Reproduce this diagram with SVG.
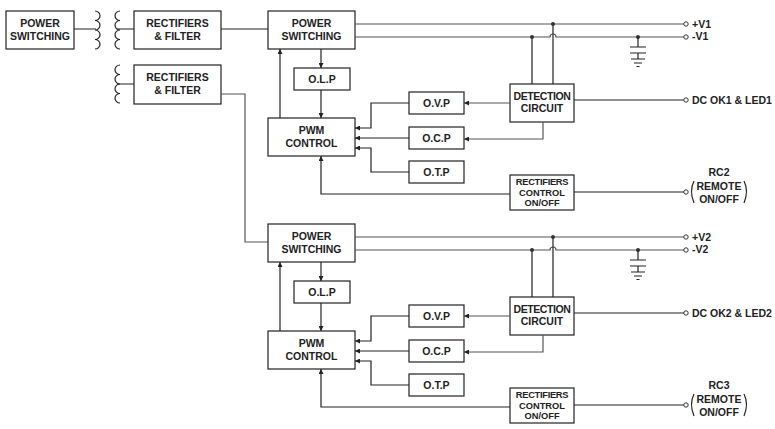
<svg xmlns="http://www.w3.org/2000/svg" width="775" height="429" viewBox="0 0 775 429">
<style>
.b{fill:#fff;stroke:#222;stroke-width:1.2}
.c{fill:none;stroke:#555;stroke-width:1.2}
.k{fill:none;stroke:#222;stroke-width:1.2}
.t{font-family:"Liberation Sans",Arial,sans-serif;font-size:10.5px;font-weight:bold;fill:#222;text-anchor:middle}
.s{font-size:9.3px}
.l{font-family:"Liberation Sans",Arial,sans-serif;font-size:10.5px;font-weight:bold;fill:#222}
.o{fill:#fff;stroke:#333;stroke-width:1}
.d{fill:#333}
</style>
<defs>
<marker id="a" viewBox="0 0 6 6" refX="6" refY="3" markerWidth="5" markerHeight="5" orient="auto" markerUnits="userSpaceOnUse"><path d="M0,0L6,3L0,6z" fill="#222"/></marker>
</defs>
<rect width="775" height="429" fill="#fff"/>
<g id="ps1"><rect class="b" x="6" y="11" width="68" height="38"/><text class="t" x="40" y="27">POWER</text><text class="t" x="40" y="40">SWITCHING</text></g>
<g id="transformer">
<path class="k" d="M95,11a5,4.75 0 0 1 0,9.5a5,4.75 0 0 1 0,9.5a5,4.75 0 0 1 0,9.5a5,4.75 0 0 1 0,9.5"/>
<path class="k" d="M120,11a5,4.75 0 0 0 0,9.5a5,4.75 0 0 0 0,9.5a5,4.75 0 0 0 0,9.5a5,4.75 0 0 0 0,9.5"/>
<path class="k" d="M120,65a5,4.75 0 0 0 0,9.5a5,4.75 0 0 0 0,9.5a5,4.75 0 0 0 0,9.5a5,4.75 0 0 0 0,9.5"/>
</g>
<g id="rf1"><rect class="b" x="134" y="11" width="87" height="38"/><text class="t" x="177.5" y="27">RECTIFIERS</text><text class="t" x="177.5" y="40">&amp; FILTER</text></g>
<g id="rf2"><rect class="b" x="134" y="65" width="87" height="39"/><text class="t" x="177.5" y="81">RECTIFIERS</text><text class="t" x="177.5" y="94">&amp; FILTER</text></g>
<g id="connectors-input">
<path class="k" d="M74,29H96M117,29H134M221,29H268M117,84H134"/>
<path class="c" d="M221,94H245V242H268"/>
</g>
<g id="sec1">
<g id="s1-ps"><rect class="b" x="268" y="11" width="87" height="38"/><text class="t" x="311.5" y="27">POWER</text><text class="t" x="311.5" y="40">SWITCHING</text></g>
<g id="s1-olp"><rect class="b" x="294" y="68" width="56" height="22"/><text class="t" x="322" y="83">O.L.P</text></g>
<g id="s1-pwm"><rect class="b" x="268" y="118" width="87" height="38"/><text class="t" x="311.5" y="134">PWM</text><text class="t" x="311.5" y="147">CONTROL</text></g>
<g id="s1-ovp"><rect class="b" x="409" y="92" width="55" height="22"/><text class="t" x="436.5" y="107">O.V.P</text></g>
<g id="s1-ocp"><rect class="b" x="409" y="127" width="55" height="22"/><text class="t" x="436.5" y="142">O.C.P</text></g>
<g id="s1-otp"><rect class="b" x="409" y="161" width="55" height="22"/><text class="t" x="436.5" y="176">O.T.P</text></g>
<g id="s1-det"><rect class="b" x="510" y="84" width="64" height="38"/><text class="t" x="542" y="100" letter-spacing="-0.4">DETECTION</text><text class="t" x="542" y="112">CIRCUIT</text></g>
<g id="s1-rc"><rect class="b" x="510" y="175" width="64" height="35"/><text class="t s" x="542" y="185" letter-spacing="-0.3">RECTIFIERS</text><text class="t s" x="542" y="195.5">CONTROL</text><text class="t s" x="542" y="206">ON/OFF</text></g>
<g id="s1-connectors">
<path class="c" d="M355,24H684M355,37H550a3,3 0 0 1 6,0H684"/>
<path class="k" d="M532,37V84M553,24V84"/>
<circle class="d" cx="532" cy="37" r="2"/><circle class="d" cx="553" cy="24" r="2"/><circle class="d" cx="638" cy="37" r="2"/>
<path class="k" d="M638,37V47M630,47H646M630,53H646M638,53V59M631,59H645M634,63H642M636.5,66.5H639.5"/>
<path class="k" d="M574,100H684M574,192H684"/>
<path class="c" d="M510,103H464" marker-end="url(#a)"/>
<path class="c" d="M543,122V139H464" marker-end="url(#a)"/>
<path class="k" d="M409,103H371V128H355" marker-end="url(#a)"/>
<path class="k" d="M409,138H355" marker-end="url(#a)"/>
<path class="k" d="M409,172H371V148H355" marker-end="url(#a)"/>
<path class="k" d="M510,194H321V156" marker-end="url(#a)"/>
<path class="k" d="M321,49V68" marker-end="url(#a)"/>
<path class="k" d="M321,90V118" marker-end="url(#a)"/>
<path class="k" d="M280,118V49" marker-end="url(#a)"/>
<circle class="o" cx="686" cy="24" r="2.2"/><circle class="o" cx="686" cy="37" r="2.2"/><circle class="o" cx="686" cy="100" r="2.2"/><circle class="o" cx="686" cy="192" r="2.2"/>
</g>
<text class="l" x="692" y="28">+V1</text><text class="l" x="692" y="40">-V1</text><text class="l" x="692" y="104">DC OK1 &amp; LED1</text>
<text class="t" x="719" y="176">RC2</text><text class="t" x="719" y="190">REMOTE</text><text class="t" x="719" y="203">ON/OFF</text>
<path class="k" d="M694,181q-5,10 0,22M744,181q5,10 0,22"/>
</g>
<g id="sec2" transform="translate(0,213)">
<g id="s2-ps"><rect class="b" x="268" y="11" width="87" height="38"/><text class="t" x="311.5" y="27">POWER</text><text class="t" x="311.5" y="40">SWITCHING</text></g>
<g id="s2-olp"><rect class="b" x="294" y="68" width="56" height="22"/><text class="t" x="322" y="83">O.L.P</text></g>
<g id="s2-pwm"><rect class="b" x="268" y="118" width="87" height="38"/><text class="t" x="311.5" y="134">PWM</text><text class="t" x="311.5" y="147">CONTROL</text></g>
<g id="s2-ovp"><rect class="b" x="409" y="92" width="55" height="22"/><text class="t" x="436.5" y="107">O.V.P</text></g>
<g id="s2-ocp"><rect class="b" x="409" y="127" width="55" height="22"/><text class="t" x="436.5" y="142">O.C.P</text></g>
<g id="s2-otp"><rect class="b" x="409" y="161" width="55" height="22"/><text class="t" x="436.5" y="176">O.T.P</text></g>
<g id="s2-det"><rect class="b" x="510" y="84" width="64" height="38"/><text class="t" x="542" y="100" letter-spacing="-0.4">DETECTION</text><text class="t" x="542" y="112">CIRCUIT</text></g>
<g id="s2-rc"><rect class="b" x="510" y="175" width="64" height="35"/><text class="t s" x="542" y="185" letter-spacing="-0.3">RECTIFIERS</text><text class="t s" x="542" y="195.5">CONTROL</text><text class="t s" x="542" y="206">ON/OFF</text></g>
<g id="s2-connectors">
<path class="c" d="M355,24H684M355,37H550a3,3 0 0 1 6,0H684"/>
<path class="k" d="M532,37V84M553,24V84"/>
<circle class="d" cx="532" cy="37" r="2"/><circle class="d" cx="553" cy="24" r="2"/><circle class="d" cx="638" cy="37" r="2"/>
<path class="k" d="M638,37V47M630,47H646M630,53H646M638,53V59M631,59H645M634,63H642M636.5,66.5H639.5"/>
<path class="k" d="M574,100H684M574,192H684"/>
<path class="c" d="M510,103H464" marker-end="url(#a)"/>
<path class="c" d="M543,122V139H464" marker-end="url(#a)"/>
<path class="k" d="M409,103H371V128H355" marker-end="url(#a)"/>
<path class="k" d="M409,138H355" marker-end="url(#a)"/>
<path class="k" d="M409,172H371V148H355" marker-end="url(#a)"/>
<path class="k" d="M510,194H321V156" marker-end="url(#a)"/>
<path class="k" d="M321,49V68" marker-end="url(#a)"/>
<path class="k" d="M321,90V118" marker-end="url(#a)"/>
<path class="k" d="M280,118V49" marker-end="url(#a)"/>
<circle class="o" cx="686" cy="24" r="2.2"/><circle class="o" cx="686" cy="37" r="2.2"/><circle class="o" cx="686" cy="100" r="2.2"/><circle class="o" cx="686" cy="192" r="2.2"/>
</g>
<text class="l" x="692" y="28">+V2</text><text class="l" x="692" y="40">-V2</text><text class="l" x="692" y="104">DC OK2 &amp; LED2</text>
<text class="t" x="719" y="176">RC3</text><text class="t" x="719" y="190">REMOTE</text><text class="t" x="719" y="203">ON/OFF</text>
<path class="k" d="M694,181q-5,10 0,22M744,181q5,10 0,22"/>
</g>
</svg>
